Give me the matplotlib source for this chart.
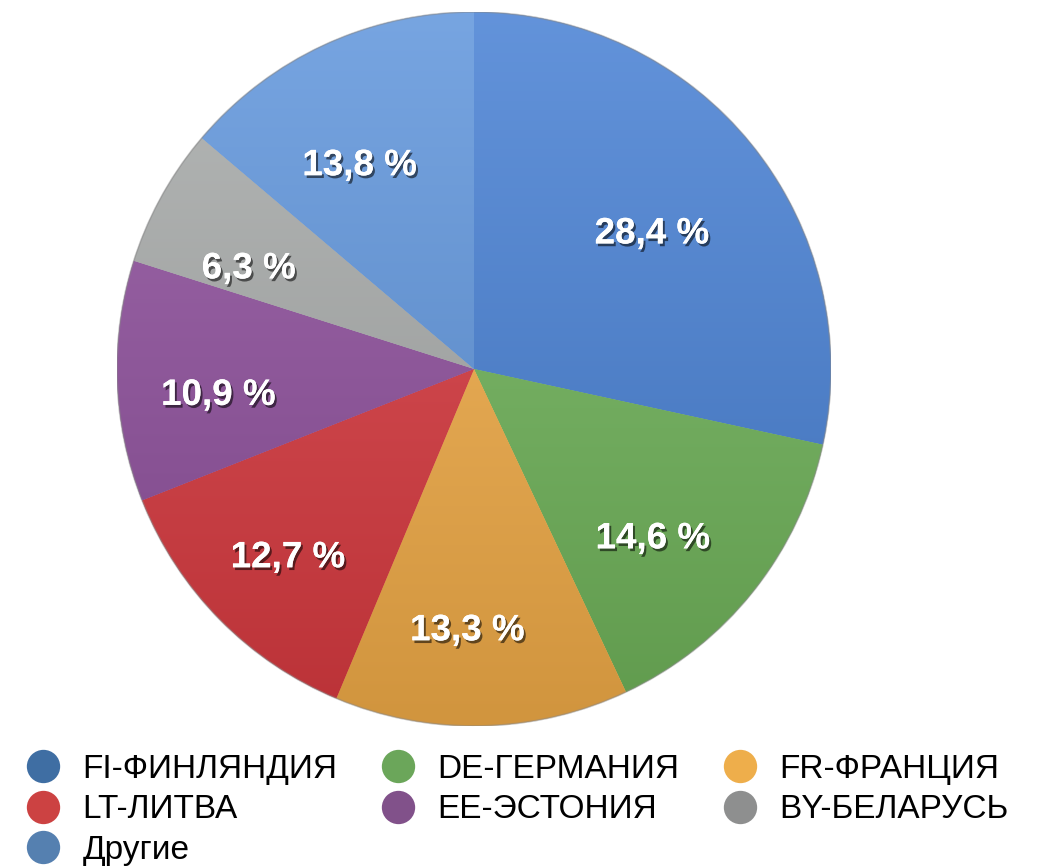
import matplotlib.pyplot as plt
import matplotlib.patheffects as pe
from matplotlib.lines import Line2D
from matplotlib.colors import to_rgb
import numpy as np

# shares by country, clockwise from 12 o'clock
labels = ['FI-ФИНЛЯНДИЯ', 'DE-ГЕРМАНИЯ', 'FR-ФРАНЦИЯ', 'LT-ЛИТВА',
          'EE-ЭСТОНИЯ', 'BY-БЕЛАРУСЬ', 'Другие']
shares = [28.4, 14.6, 13.3, 12.7, 10.9, 6.3, 13.8]
pct_text = ['28,4 %', '14,6 %', '13,3 %', '12,7 %', '10,9 %', '6,3 %', '13,8 %']

slice_colors = ['#4780d4', '#70b45a', '#f3ad48', '#d93a40', '#8f509d', '#a8abaa', '#5f95dc']
legend_colors = ['#3f6ea3', '#6ba65a', '#eeae4b', '#cc4242', '#81518a', '#8e8f8f', '#5580b0']


def shade(c, f):
    r, g, b = to_rgb(c)
    if f >= 0:
        return (r + (1 - r) * f, g + (1 - g) * f, b + (1 - b) * f)
    return (r * (1 + f), g * (1 + f), b * (1 + f))


def main():
    fig = plt.figure(figsize=(10.38, 8.67), dpi=100)
    # pie axes placed in pixels: centre ~ (474, 369), radius ~ 357
    W, H = 1038, 867
    cx, cy, R = 474, 369, 357
    ax = fig.add_axes([(cx - R) / W, (H - cy - R) / H, 2 * R / W, 2 * R / H])

    wedges, _ = ax.pie(shares, colors=slice_colors, startangle=90, counterclock=False,
                       radius=1.0, wedgeprops=dict(linewidth=0))

    # top-to-bottom gradient inside each wedge
    grad = np.linspace(0, 1, 256).reshape(-1, 1)
    for w, c in zip(wedges, slice_colors):
        top = np.array(shade(c, 0.15))
        bot = np.array(shade(c, -0.14))
        img = top[None, None, :] * (1 - grad[:, :, None]) + bot[None, None, :] * grad[:, :, None]
        im = ax.imshow(img, extent=(-1, 1, -1, 1), origin='upper', aspect='auto', zorder=1.5)
        im.set_clip_path(w)

    ring = plt.Circle((0, 0), 1.0, fill=False, edgecolor='#888888', linewidth=1.2, alpha=0.5, zorder=3)
    ax.add_patch(ring)

    # percent labels, measured around the visible wedge apex (a bit left/below centre)
    ox, oy = -12 / R, -18 / R
    acc = 0
    for s, t in zip(shares, pct_text):
        a = np.deg2rad(90 - (acc + s / 2) * 3.6)
        acc += s
        r = 0.683
        ax.text(ox + r * np.cos(a), oy + r * np.sin(a), t, ha='center', va='center',
                fontsize=26.5, fontweight='bold', color='white', family='Liberation Sans',
                zorder=5,
                path_effects=[pe.withSimplePatchShadow(offset=(1.5, -2), shadow_rgbFace='black', alpha=0.55),
                              pe.Normal()])

    ax.set_xlim(-1, 1)
    ax.set_ylim(-1, 1)
    ax.set_aspect('equal')
    ax.axis('off')

    # legend, column-major order so rows read FI, DE, FR / LT, EE, BY / Другие
    handles = [Line2D([], [], linestyle='none', marker='o', markersize=24,
                      markerfacecolor=c, markeredgewidth=0) for c in legend_colors]
    order = [0, 3, 6, 1, 4, 2, 5]
    fig.legend([handles[i] for i in order], [labels[i] for i in order],
               loc='upper left', bbox_to_anchor=(26 / W, 1 - 754 / H), ncol=3, frameon=False,
               prop={'family': 'Liberation Sans', 'size': 24},
               handlelength=1.0, handletextpad=0.7, columnspacing=1.3,
               labelspacing=0.28, borderaxespad=0, borderpad=0)

    fig.savefig('out.png', dpi=100, facecolor='white')


main()
